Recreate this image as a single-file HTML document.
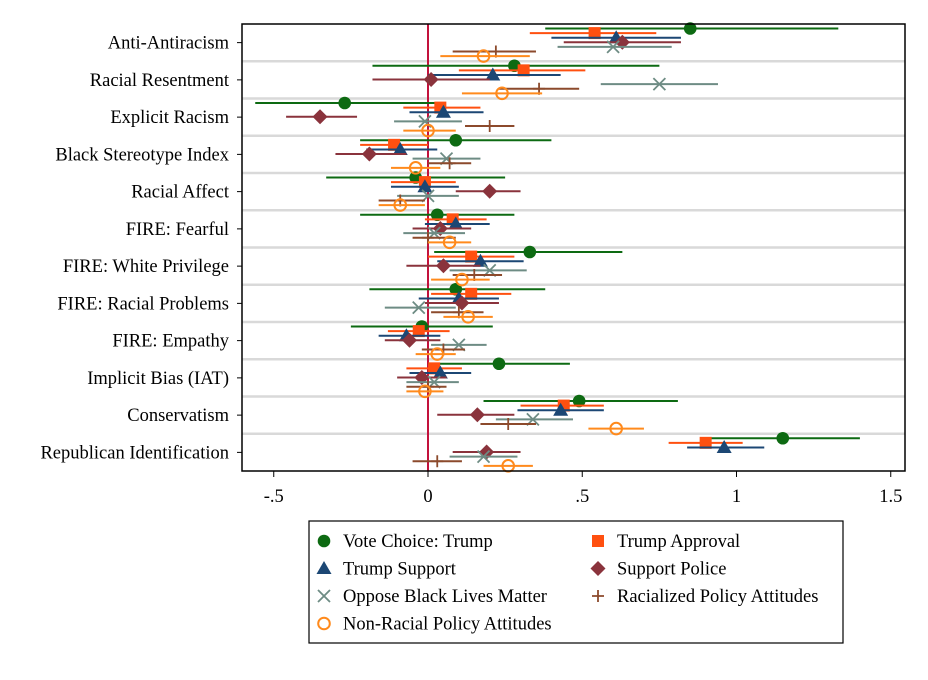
<!DOCTYPE html>
<html><head><meta charset="utf-8"><style>
body{margin:0;background:#fff}
svg text{font-family:"Liberation Serif",serif}
</style></head><body>
<svg id="chart" width="928" height="675" xmlns="http://www.w3.org/2000/svg"></svg>
<script>
const categories=["Anti-Antiracism","Racial Resentment","Explicit Racism","Black Stereotype Index","Racial Affect","FIRE: Fearful","FIRE: White Privilege","FIRE: Racial Problems","FIRE: Empathy","Implicit Bias (IAT)","Conservatism","Republican Identification"];
const seriesNames=["Vote Choice: Trump","Trump Approval","Trump Support","Support Police","Oppose Black Lives Matter","Racialized Policy Attitudes","Non-Racial Policy Attitudes"];
const estVote=[0.85,0.28,-0.27,0.09,-0.04,0.03,0.33,0.09,-0.02,0.23,0.49,1.15];
const loVote=[0.38,-0.18,-0.56,-0.22,-0.33,-0.22,0.02,-0.19,-0.25,0.0,0.18,0.91];
const hiVote=[1.33,0.75,0.04,0.40,0.25,0.28,0.63,0.38,0.21,0.46,0.81,1.40];
const estAppr=[0.54,0.31,0.04,-0.11,-0.01,0.08,0.14,0.14,-0.03,0.02,0.44,0.90];
const loAppr=[0.33,0.10,-0.08,-0.22,-0.12,-0.01,0.0,0.01,-0.13,-0.07,0.30,0.78];
const hiAppr=[0.74,0.51,0.17,0.0,0.09,0.19,0.28,0.27,0.07,0.11,0.57,1.02];
const estSupp=[0.61,0.21,0.05,-0.09,-0.01,0.09,0.17,0.10,-0.07,0.04,0.43,0.96];
const loSupp=[0.40,0.0,-0.06,-0.20,-0.12,-0.01,0.03,-0.03,-0.16,-0.06,0.29,0.84];
const hiSupp=[0.82,0.43,0.18,0.03,0.10,0.20,0.31,0.23,0.04,0.14,0.57,1.09];
const estPol=[0.63,0.01,-0.35,-0.19,0.20,0.04,0.05,0.11,-0.06,-0.02,0.16,0.19];
const loPol=[0.44,-0.18,-0.46,-0.30,0.09,-0.05,-0.07,-0.01,-0.14,-0.10,0.03,0.08];
const hiPol=[0.82,0.20,-0.23,-0.07,0.30,0.14,0.17,0.23,0.04,0.06,0.28,0.30];
const estBlm=[0.60,0.75,-0.01,0.06,0.00,0.02,0.20,-0.03,0.10,0.02,0.34,0.18];
const loBlm=[0.42,0.56,-0.11,-0.05,-0.10,-0.08,0.07,-0.14,0.01,-0.07,0.22,0.07];
const hiBlm=[0.79,0.94,0.11,0.17,0.10,0.12,0.32,0.09,0.19,0.10,0.47,0.29];
const estRac=[0.22,0.36,0.20,0.07,-0.09,0.00,0.15,0.10,0.05,0.00,0.26,0.03];
const loRac=[0.08,0.23,0.12,0.00,-0.16,-0.05,0.08,0.01,-0.02,-0.07,0.17,-0.05];
const hiRac=[0.35,0.49,0.28,0.14,-0.01,0.09,0.24,0.18,0.12,0.06,0.35,0.11];
const estNon=[0.18,0.24,0.00,-0.04,-0.09,0.07,0.11,0.13,0.03,-0.01,0.61,0.26];
const loNon=[0.04,0.11,-0.08,-0.12,-0.16,0.0,0.01,0.05,-0.04,-0.07,0.52,0.18];
const hiNon=[0.33,0.37,0.09,0.04,-0.01,0.14,0.20,0.21,0.09,0.05,0.70,0.34];
const xTicks=[-0.5,0,0.5,1,1.5];
const xTickLabels=["-.5","0",".5","1","1.5"];

const S=[{est:estVote,lo:loVote,hi:hiVote,c:"#0d6a12",m:"circle"},
{est:estAppr,lo:loAppr,hi:hiAppr,c:"#ff5010",m:"square"},
{est:estSupp,lo:loSupp,hi:hiSupp,c:"#1c4774",m:"tri"},
{est:estPol,lo:loPol,hi:hiPol,c:"#8a333c",m:"diamond"},
{est:estBlm,lo:loBlm,hi:hiBlm,c:"#6e8c84",m:"x"},
{est:estRac,lo:loRac,hi:hiRac,c:"#8c4a2c",m:"plus"},
{est:estNon,lo:loNon,hi:hiNon,c:"#ff8a1c",m:"ocircle"}];
const L=242,R=905,T=24,B=471;
const rowH=(B-T)/categories.length;
const X=v=>428+v*308.5;
const Y=(i,j)=>T+rowH*i+4.5+j*4.6;
const svg=document.getElementById('chart');
const NS="http://www.w3.org/2000/svg";
function mk(tag,attrs,parent){const e=document.createElementNS(NS,tag);for(const k in attrs)e.setAttribute(k,attrs[k]);(parent||svg).appendChild(e);return e;}
function marker(type,x,y,c,g){
 if(type=="circle")return mk('circle',{cx:x,cy:y,r:6.3,fill:c},g);
 if(type=="square")return mk('rect',{x:x-6,y:y-6,width:12,height:12,fill:c},g);
 if(type=="tri")return mk('path',{d:`M${x},${y-7.5}L${x+7.5},${y+5.5}L${x-7.5},${y+5.5}Z`,fill:c},g);
 if(type=="diamond")return mk('path',{d:`M${x},${y-7.5}L${x+7.5},${y}L${x},${y+7.5}L${x-7.5},${y}Z`,fill:c},g);
 if(type=="x")return mk('path',{d:`M${x-6},${y-6}L${x+6},${y+6}M${x-6},${y+6}L${x+6},${y-6}`,stroke:c,'stroke-width':1.8,fill:'none'},g);
 if(type=="plus")return mk('path',{d:`M${x-6},${y}L${x+6},${y}M${x},${y-6}L${x},${y+6}`,stroke:c,'stroke-width':1.8,fill:'none'},g);
 if(type=="ocircle")return mk('circle',{cx:x,cy:y,r:5.8,fill:'none',stroke:c,'stroke-width':2},g);
}
for(let i=1;i<categories.length;i++){
 const gl=mk('line',{x1:L,x2:R,y1:T+rowH*i,y2:T+rowH*i,stroke:'#d9d9d9','stroke-width':2.5});
 
 
}
const zl=mk('line',{x1:X(0),x2:X(0),y1:T,y2:B,stroke:'#c3123c','stroke-width':2});


S.forEach((s,j)=>{
 const g=mk('g',{});
 
 
 s.est.forEach((v,i)=>{
  const y=Y(i,j);
  const ln=mk('line',{x1:X(s.lo[i]),x2:X(s.hi[i]),y1:y,y2:y,stroke:s.c,'stroke-width':2},g);
  
  
 });
 s.est.forEach((v,i)=>{
  const p=marker(s.m,X(v),Y(i,j),s.c,g);
  
  
 });
});
const fr=mk('rect',{x:L,y:T,width:R-L,height:B-T,fill:'none',stroke:'#000','stroke-width':1.5});


categories.forEach((c,i)=>{
 const yc=T+rowH*(i+0.5);
 mk('line',{x1:L-5,x2:L,y1:yc,y2:yc,stroke:'#000','stroke-width':1});
 const t=mk('text',{x:L-13,y:yc+6,'text-anchor':'end','font-size':18.5});
 t.textContent=c;
 
 
});
xTicks.forEach((v,i)=>{
 mk('line',{x1:X(v),x2:X(v),y1:B,y2:B+6,stroke:'#000','stroke-width':1});
 const t=mk('text',{x:X(v),y:B+31,'text-anchor':'middle','font-size':18.5});
 t.textContent=xTickLabels[i];
 
 
});
const lg=mk('g',{});


mk('rect',{x:309,y:521,width:534,height:122,fill:'#fff',stroke:'#000','stroke-width':1.2},lg);
seriesNames.forEach((n,j)=>{
 const col=j%2,row=Math.floor(j/2);
 const mx=col?598:324,my=541+row*27.5;
 const e=mk('g',{},lg);
 
 
 marker(S[j].m,mx,my,S[j].c,e);
 const t=mk('text',{x:mx+19,y:my+6,'font-size':18.5},e);
 t.textContent=n;
});
</script>
</body></html>
